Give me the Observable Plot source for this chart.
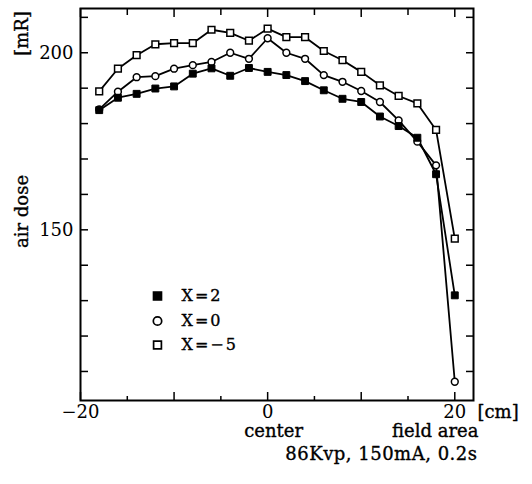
<!DOCTYPE html>
<html><head><meta charset="utf-8">
<script src="https://cdn.jsdelivr.net/npm/d3@7"></script>
<script src="https://cdn.jsdelivr.net/npm/@observablehq/plot@0.6"></script>
<style>
body{margin:0;background:#fff}
#chart svg{display:block}
</style>
</head><body><div id="chart"></div>
<script>
// position across the field [cm]
const positions = [-18,-16,-14,-12,-10,-8,-6,-4,-2,0,2,4,6,8,10,12,14,16,18,20];
// air dose [mR]
const doseX2  = [183.8,187.3,188.4,189.9,190.5,194.1,195.6,193.5,195.7,194.6,193.7,192.0,189.4,187.0,186.1,182.0,179.3,176.0,165.7,131.5];
const doseX0  = [184.0,189.0,193.1,193.4,195.5,196.5,197.4,200.0,198.3,204.1,200.0,198.3,193.7,191.8,189.2,186.1,180.9,174.9,168.2,107.1];
const doseXm5 = [189.1,195.5,199.3,202.4,202.7,202.7,206.5,205.6,203.4,206.8,204.4,204.4,200.5,197.9,194.6,190.8,187.8,185.7,178.2,147.5];
const seriesNames = ["X=2","X=0","X=−5"];
const xMajorTicks = [-20,-10,0,10,20];
const xMinorTicks = [-15,-5,5,15];
const yTicks = [110,120,130,140,150,160,170,180,190,200,210];
const xTickLabels = [-20,0,20];
const yTickLabels = [150,200];

const W = 532, H = 484, mt = 8, mr = 59, mb = 84, ml = 80;
const innerW = W - ml - mr, innerH = H - mt - mb;

const seriesValues = [doseX2, doseX0, doseXm5];
const rows = seriesNames.flatMap((s, k) => positions.map((p, i) => ({series: s, pos: p, dose: seriesValues[k][i]})));
const only = s => rows.filter(d => d.series === s);

const font = "DejaVu Serif";
const txt = {fontFamily: font, fill: "black", stroke: "black", strokeWidth: 0.35};
const legendItems = seriesNames.map((s, i) => ({series: s, i}));

const chart = Plot.plot({
  width: W, height: H,
  marginTop: mt, marginRight: mr, marginBottom: mb, marginLeft: ml,
  style: {fontFamily: font, fontSize: "18px", color: "black", background: "white"},
  x: {domain: [-20, 22]},
  y: {domain: [101.8, 212.5]},
  marks: [
    Plot.frame({stroke: "black", strokeWidth: 2}),
    // inward ticks
    Plot.tickX(xMajorTicks, {x: d => d, insetTop: innerH - 8, stroke: "black", strokeWidth: 1.5}),
    Plot.tickX(xMinorTicks, {x: d => d, insetTop: innerH - 4, stroke: "black", strokeWidth: 1.5}),
    Plot.tickX(xMajorTicks, {x: d => d, insetBottom: innerH - 9, stroke: "black", strokeWidth: 1.5}),
    Plot.tickX(xMinorTicks, {x: d => d, insetBottom: innerH - 7, stroke: "black", strokeWidth: 1.5}),
    Plot.tickY(yTicks, {y: d => d, insetRight: innerW - 8, stroke: "black", strokeWidth: 1.5}),
    Plot.tickY(yTicks, {y: d => d, insetLeft: innerW - 7, stroke: "black", strokeWidth: 1.5}),
    Plot.axisX({ticks: xTickLabels, tickSize: 0, tickPadding: 5, fontSize: 18, ...txt,
      tickFormat: d => d < 0 ? "−" + Math.abs(d) : String(d), label: null}),
    Plot.axisY({ticks: yTickLabels, tickSize: 0, tickPadding: 7, fontSize: 18, ...txt, label: null}),
    // lines
    Plot.line(rows, {x: "pos", y: "dose", z: "series", stroke: "black", strokeWidth: 1.8}),
    // markers
    Plot.dot(only("X=−5"), {x: "pos", y: "dose", symbol: "square", r: 3.8, fill: "white", stroke: "black", strokeWidth: 1.5}),
    Plot.dot(only("X=0"), {x: "pos", y: "dose", symbol: "circle", r: 3.4, fill: "white", stroke: "black", strokeWidth: 1.5}),
    Plot.dot(only("X=2"), {x: "pos", y: "dose", symbol: "square", r: 3.9, fill: "black", stroke: "black", strokeWidth: 1}),
    // legend
    Plot.dot(legendItems.slice(0,1), {frameAnchor: "bottom-left", dx: 77, dy: -104.5, symbol: "square", r: 4.6, fill: "black", stroke: "black"}),
    Plot.dot(legendItems.slice(1,2), {frameAnchor: "bottom-left", dx: 77, dy: -79.5, symbol: "circle", r: 4.2, fill: "white", stroke: "black", strokeWidth: 1.7}),
    Plot.dot(legendItems.slice(2,3), {frameAnchor: "bottom-left", dx: 77, dy: -55.5, symbol: "square", r: 4.4, fill: "white", stroke: "black", strokeWidth: 1.7}),
    Plot.text(legendItems.slice(0,1), {text: "series", frameAnchor: "bottom-left", dx: 101, dy: -104.5, textAnchor: "start", lineAnchor: "middle", fontSize: 16, ...txt}),
    Plot.text(legendItems.slice(1,2), {text: "series", frameAnchor: "bottom-left", dx: 101, dy: -79.5, textAnchor: "start", lineAnchor: "middle", fontSize: 16, ...txt}),
    Plot.text(legendItems.slice(2,3), {text: "series", frameAnchor: "bottom-left", dx: 101, dy: -55.5, textAnchor: "start", lineAnchor: "middle", fontSize: 16, ...txt}),
    // axis titles & notes
    Plot.text(["air dose"], {frameAnchor: "left", dx: -58, dy: 7, rotate: -90, textAnchor: "middle", lineAnchor: "middle", fontSize: 18, ...txt}),
    Plot.text(["[mR]"], {frameAnchor: "top-left", dx: -58, dy: 25, rotate: -90, textAnchor: "middle", lineAnchor: "middle", fontSize: 18, ...txt}),
    Plot.text(["[cm]"], {frameAnchor: "bottom-right", dx: 4, dy: 12, textAnchor: "start", lineAnchor: "middle", fontSize: 18, ...txt}),
    Plot.text([{x: 0, t: "center"}], {x: "x", text: "t", frameAnchor: "bottom", dx: 6, dy: 31, textAnchor: "middle", lineAnchor: "middle", fontSize: 18, ...txt}),
    Plot.text(["field area"], {frameAnchor: "bottom-right", dx: 5, dy: 31, textAnchor: "end", lineAnchor: "middle", fontSize: 18, ...txt}),
    Plot.text(["86Kvp, 150mA, 0.2s"], {frameAnchor: "bottom-right", dx: 4, dy: 54, textAnchor: "end", lineAnchor: "middle", fontSize: 18, ...txt})
  ]
});
document.getElementById("chart").appendChild(chart);
chart.querySelectorAll("text").forEach(t => {
  if (t.textContent.startsWith("X=")) t.setAttribute("letter-spacing", "2");
  if (t.textContent.startsWith("86Kvp")) t.setAttribute("letter-spacing", "0.5");
});
</script>
</body></html>
